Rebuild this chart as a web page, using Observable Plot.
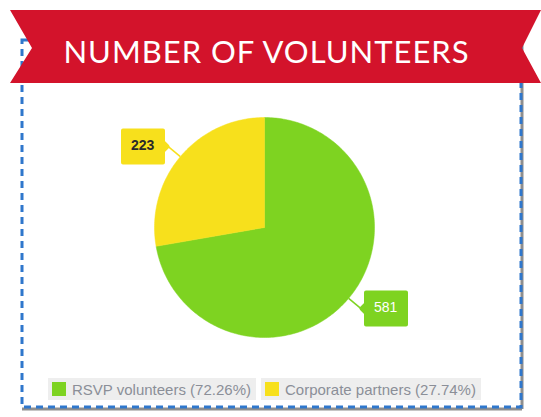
<!DOCTYPE html>
<html>
<head>
<meta charset="utf-8">
<script src="https://cdn.jsdelivr.net/npm/d3@7"></script>
<script src="https://cdn.jsdelivr.net/npm/@observablehq/plot@0.6"></script>
<style>
  html, body { margin: 0; padding: 0; background: #fff; }
  #page { position: relative; width: 541px; height: 417px; overflow: hidden; background: #fff; }
  #deco { position: absolute; left: 0; top: 0; }
  #title { position: absolute; left: 0; top: 10px; width: 533px; height: 73px; display: flex; align-items: center; justify-content: center; padding-top: 8px; box-sizing: border-box;
           font-family: Lato, "Open Sans", sans-serif; font-size: 31px; color: #fff; letter-spacing: 1px; }
  #chart { position: absolute; left: 0; top: 83px; }
  #legend { position: absolute; left: 48px; top: 378px; display: flex; gap: 5px; font-family: "Liberation Sans", Arial, sans-serif; font-size: 15px; color: #8b8f98; }
  .item { display: flex; align-items: center; height: 22px; background: #eeeeee; padding: 0 5px 0 4px; }
  .sw { width: 14px; height: 14px; margin-right: 6px; }
</style>
</head>
<body>
<div id="page">
  <svg id="deco" width="541" height="417">
    <line x1="522" y1="40" x2="522" y2="409" stroke="#8e8e8e" stroke-width="3"/>
    <line x1="22" y1="409" x2="522" y2="409" stroke="#8e8e8e" stroke-width="3"/>
    <rect x="22" y="40" width="499" height="367" fill="none" stroke="#2f77cc" stroke-width="3" stroke-dasharray="7,5"/>
    <polygon points="10,10 541,10 522,48 541,83 10,83 32,48" fill="#d3132b"/>
  </svg>
  <div id="title">NUMBER OF VOLUNTEERS</div>
  <div id="chart"></div>
  <div id="legend"></div>
</div>
<script>
// ---- data ----
const categories = ["RSVP volunteers", "Corporate partners"];
const volunteers = [581, 223];
const labelAnchor = ["left", "right"];   // side of the callout box
// ---- style ----
const colors = ["#7ed321", "#f7e01c"];
const textColors = ["#ffffff", "#2a2a2a"];

const total = d3.sum(volunteers);
const pie = d3.pie().sort(null).value(d => d.value)(
  categories.map((c, i) => ({category: c, value: volunteers[i], i}))
);

// slice outlines (angle 0 at top, clockwise), in unit-radius coordinates
const slicePts = [];
for (const s of pie) {
  slicePts.push({category: s.data.category, x: 0, y: 0});
  const n = Math.max(2, Math.ceil((s.endAngle - s.startAngle) / (Math.PI / 180)));
  for (let k = 0; k <= n; ++k) {
    const a = s.startAngle + (s.endAngle - s.startAngle) * k / n;
    slicePts.push({category: s.data.category, x: Math.sin(a), y: Math.cos(a)});
  }
  slicePts.push({category: s.data.category, x: 0, y: 0});
}

const labels = pie.map(s => {
  const m = (s.startAngle + s.endAngle) / 2;
  return {
    category: s.data.category, value: s.data.value, i: s.data.i,
    ex: Math.sin(m), ey: Math.cos(m),
    ax: 1.15 * Math.sin(m), ay: 1.15 * Math.cos(m)
  };
});

const color = {domain: categories, range: colors};

const marks = [
  Plot.line(slicePts, {x: "x", y: "y", z: "category", fill: "category", stroke: "category", strokeWidth: 0.5, curve: "linear"}),
  Plot.link(labels, {x1: "ex", y1: "ey", x2: "ax", y2: "ay", stroke: "category", strokeWidth: 1.5})
];
labels.forEach(l => {
  marks.push(Plot.tip([l], {
    x: "ax", y: "ay", title: d => String(d.value), anchor: labelAnchor[l.i],
    fill: colors[l.i], stroke: colors[l.i], pointerSize: 9, textPadding: 8,
    fontSize: 14, fontFamily: "Liberation Sans, Arial, sans-serif",
    fontWeight: l.i === 1 ? "bold" : "normal", pathFilter: "none"
  }));
});

const plot = Plot.plot({
  width: 541, height: 290,
  marginLeft: 44, marginRight: 57, marginTop: 1, marginBottom: 3,
  x: {domain: [-2, 2], axis: null},
  y: {domain: [-1.3, 1.3], axis: null},
  color,
  style: {background: "transparent", overflow: "visible"},
  marks
});
document.getElementById("chart").appendChild(plot);

// callout styling
d3.select(plot).selectAll('g[aria-label="tip"]').each(function(_, j) {
  const g = d3.select(this);
  g.selectAll("path").attr("stroke-linejoin", "round").attr("stroke-width", 4);
  g.selectAll("text, tspan").attr("fill", textColors[j]).style("fill", textColors[j]);
});

// legend
const legend = d3.select("#legend");
categories.forEach((c, i) => {
  const it = legend.append("div").attr("class", "item");
  it.append("div").attr("class", "sw").style("background", colors[i]);
  it.append("span").text(`${c} (${(100 * volunteers[i] / total).toFixed(2)}%)`);
});
</script>
</body>
</html>
